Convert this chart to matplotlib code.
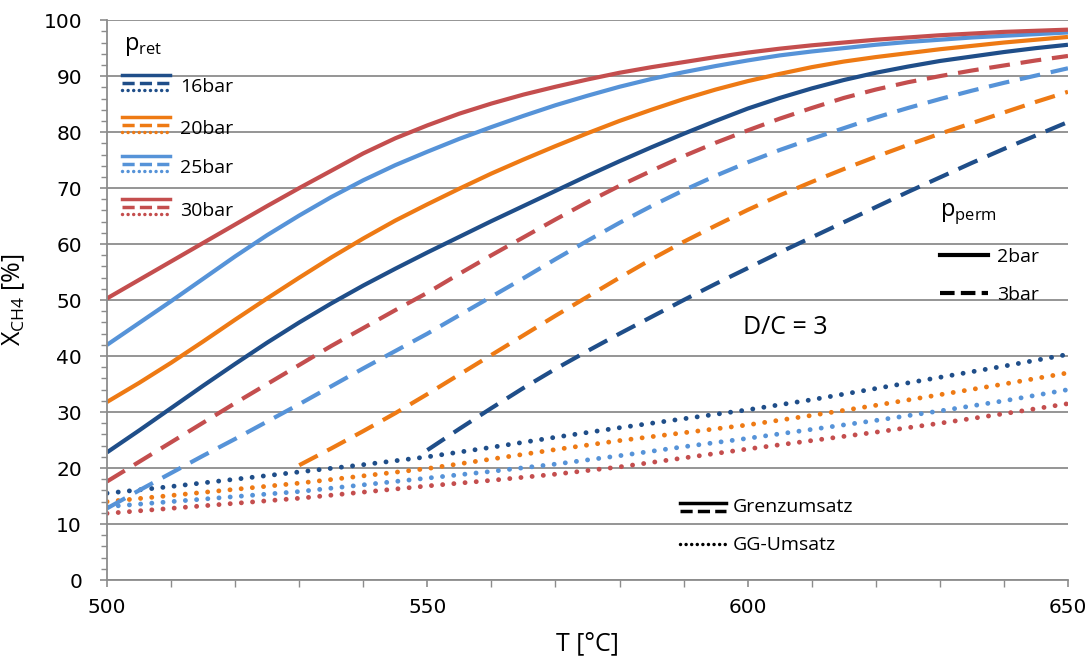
import numpy as np
import matplotlib.pyplot as plt
from matplotlib.lines import Line2D

nan = np.nan

# Temperatur in °C
T5 = list(range(500, 651, 5))     # Grenzumsatz-Kurven
T10 = list(range(500, 651, 10))   # Gleichgewichtsumsatz

# p_perm = 2 bar (Grenzumsatz, durchgezogen)
x2_16 = [22.8, 26.7, 30.7, 34.7, 38.6, 42.4, 46, 49.4, 52.6, 55.6, 58.5, 61.3, 64.1, 66.8, 69.5,
         72.2, 74.8, 77.3, 79.7, 82, 84.2, 86.1, 87.8, 89.3, 90.6, 91.7, 92.7, 93.5, 94.3, 95, 95.6]
x2_20 = [31.8, 35.2, 38.8, 42.6, 46.5, 50.3, 54, 57.6, 61, 64.2, 67.1, 69.9, 72.6, 75.1, 77.5,
         79.8, 82, 84, 85.9, 87.6, 89.1, 90.4, 91.6, 92.6, 93.4, 94.1, 94.8, 95.4, 96, 96.5, 97]
x2_25 = [42, 45.9, 49.8, 53.8, 57.8, 61.6, 65.1, 68.4, 71.4, 74.1, 76.5, 78.8, 80.9, 82.9, 84.8,
         86.5, 88.1, 89.5, 90.7, 91.8, 92.8, 93.7, 94.4, 95, 95.6, 96.1, 96.5, 96.9, 97.2, 97.5, 97.8]
x2_30 = [50.3, 53.6, 56.9, 60.2, 63.5, 66.8, 70, 73.1, 76.2, 78.9, 81.2, 83.3, 85.1, 86.7, 88.1,
         89.4, 90.6, 91.6, 92.5, 93.4, 94.2, 94.9, 95.5, 96, 96.5, 96.9, 97.3, 97.6, 97.9, 98.1, 98.3]

# p_perm = 3 bar (Grenzumsatz, gestrichelt)
x3_16 = [nan] * 10 + [23.2, 27, 30.7, 34.3, 37.7, 40.9, 44, 47, 50, 52.9, 55.7,
                      58.5, 61.2, 63.9, 66.6, 69.3, 71.9, 74.5, 77, 79.4, 81.8]
x3_20 = [nan] * 6 + [20.5, 23.5, 26.6, 29.8, 33.2, 36.7, 40.2, 43.7, 47.2, 50.6, 54, 57.3,
                     60.4, 63.3, 66.1, 68.7, 71.1, 73.4, 75.6, 77.7, 79.7, 81.6, 83.5, 85.4, 87.2]
x3_25 = [12.8, 16, 19.1, 22.2, 25.2, 28.3, 31.4, 34.6, 37.8, 40.9, 44, 47.3, 50.6, 53.9, 57.3,
         60.6, 63.8, 66.8, 69.6, 72.2, 74.6, 76.8, 78.8, 80.7, 82.6, 84.3, 85.9, 87.4, 88.8, 90.1, 91.4]
x3_30 = [17.6, 21.1, 24.6, 28.1, 31.6, 35, 38.4, 41.8, 45, 48.2, 51.3, 54.7, 58, 61.2, 64.4,
         67.5, 70.4, 73.1, 75.7, 78.1, 80.3, 82.4, 84.3, 86.1, 87.6, 88.9, 90, 91, 91.9, 92.8, 93.6]

# Gleichgewichtsumsatz (gepunktet)
gg_16 = [15.5, 16.7, 18, 19.3, 20.6, 22, 23.7, 25.5, 27.2, 28.8, 30.4, 32.2, 34.2, 36.2, 38.2, 40.3]
gg_20 = [14, 15.1, 16.2, 17.3, 18.6, 19.9, 21.6, 23.3, 24.9, 26.3, 27.7, 29.4, 31.2, 33.1, 35, 37]
gg_25 = [13.1, 14, 14.9, 15.8, 17, 18.2, 19.4, 20.7, 22.2, 23.8, 25.3, 26.9, 28.5, 30.2, 32, 34]
gg_30 = [11.9, 12.8, 13.7, 14.6, 15.7, 16.8, 17.8, 18.9, 20.2, 21.8, 23.4, 24.9, 26.4, 28, 29.7, 31.5]

labels = ['16bar', '20bar', '25bar', '30bar']
colors = ['#1F4E89', '#EE7A14', '#5693D8', '#C44E4E']

sol = [x2_16, x2_20, x2_25, x2_30]
das = [x3_16, x3_20, x3_25, x3_30]
dot = [gg_16, gg_20, gg_25, gg_30]

fig = plt.figure(figsize=(10.92, 6.71), dpi=100)
ax = fig.add_axes([0.098, 0.1356, 0.88, 0.8344])

dash = (5, 2.6)
dots = (0.01, 2.3)

for i in range(4):
    ax.plot(T5, sol[i], color=colors[i], lw=3, solid_capstyle='butt', solid_joinstyle='round')
    ax.plot(T5, das[i], color=colors[i], lw=3, dashes=dash)
    ax.plot(T10, dot[i], color=colors[i], lw=3.5, dashes=dots, dash_capstyle='round')

ax.set_xlim(500, 650)
ax.set_ylim(0, 100)
ax.set_xticks([500, 550, 600, 650])
ax.set_xticks(np.arange(500, 651, 10), minor=True)
ax.set_yticks(np.arange(0, 101, 10))
ax.set_yticks(np.arange(0, 101, 2), minor=True)
ax.grid(axis='y', which='major', color='#8c8c8c', lw=1.3)
ax.set_axisbelow(True)
for s in ['top', 'right']:
    ax.spines[s].set_visible(False)
for s in ['left', 'bottom']:
    ax.spines[s].set_color('#8c8c8c')
    ax.spines[s].set_linewidth(1.3)
ax.tick_params(axis='both', which='major', labelsize=14.5, color='#8c8c8c', length=5, width=1.2)
ax.tick_params(axis='y', which='major', pad=13)
ax.tick_params(axis='x', which='major', pad=8)
ax.tick_params(axis='both', which='minor', color='#8c8c8c', length=4, width=1)
ax.tick_params(axis='x', which='minor', length=5)

ax.set_xlabel('T [°C]', fontsize=18, family='Open Sans', labelpad=10)
ax.set_ylabel(r'X$_{\mathregular{CH4}}$ [%]', fontsize=18, family='Open Sans', labelpad=12)

# Legende p_ret (oben links)
tr = ax.transAxes
def fx(px):
    return (px - 107) / 961
def fy(py):
    return (580 - py) / 560

ax.text(fx(124), fy(46), r'p$_{\mathregular{ret}}$', transform=tr, fontsize=17,
        family='Open Sans', va='center', ha='left')
ys = [75, 117, 156, 199]
for i in range(4):
    y0 = ys[i]
    ax.add_line(Line2D([fx(122), fx(170)], [fy(y0), fy(y0)], transform=tr, color=colors[i], lw=2.5))
    ax.add_line(Line2D([fx(122), fx(170)], [fy(y0 + 7.5), fy(y0 + 7.5)], transform=tr,
                       color=colors[i], lw=2.5, dashes=(3.5, 1.5)))
    ax.add_line(Line2D([fx(122), fx(170)], [fy(y0 + 15), fy(y0 + 15)], transform=tr,
                       color=colors[i], lw=2.5, dashes=(0.01, 1.6), dash_capstyle='round'))
    ax.text(fx(180), fy(y0 + 12), labels[i], transform=tr, fontsize=14,
            family='Open Sans', va='center', ha='left')

# Legende p_perm (rechts)
ax.text(fx(940), fy(213), r'p$_{\mathregular{perm}}$', transform=tr, fontsize=17,
        family='Open Sans', va='center', ha='left')
ax.add_line(Line2D([fx(940), fx(988)], [fy(255), fy(255)], transform=tr, color='black', lw=3))
ax.text(fx(997), fy(257), '2bar', transform=tr, fontsize=14, family='Open Sans', va='center')
ax.add_line(Line2D([fx(940), fx(988)], [fy(293), fy(293)], transform=tr, color='black', lw=3,
                   dashes=(3.5, 1.5)))
ax.text(fx(997), fy(295), '3bar', transform=tr, fontsize=14, family='Open Sans', va='center')

ax.text(fx(743), fy(327), 'D/C = 3', transform=tr, fontsize=18, family='Open Sans',
        va='center', ha='left')

# Legende Umsatz (unten)
ax.add_line(Line2D([fx(680), fx(726)], [fy(503), fy(503)], transform=tr, color='black', lw=2.5))
ax.add_line(Line2D([fx(680), fx(726)], [fy(511), fy(511)], transform=tr, color='black', lw=2.5,
                   dashes=(3.5, 1.5)))
ax.text(fx(733), fy(507), 'Grenzumsatz', transform=tr, fontsize=14, family='Open Sans', va='center')
ax.add_line(Line2D([fx(680), fx(726)], [fy(544), fy(544)], transform=tr, color='black', lw=2.5,
                   dashes=(0.01, 1.6), dash_capstyle='round'))
ax.text(fx(733), fy(545), 'GG-Umsatz', transform=tr, fontsize=14, family='Open Sans', va='center')

fig.savefig('out.png', dpi=100)
